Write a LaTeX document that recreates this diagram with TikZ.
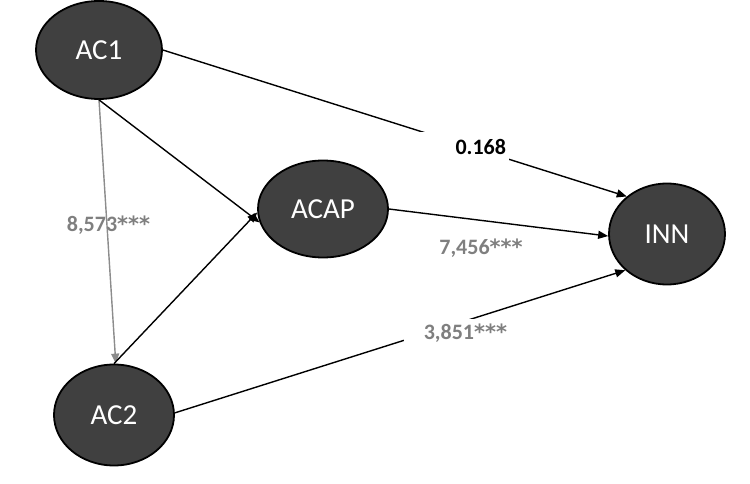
\documentclass[tikz,border=0pt]{standalone}
\usepackage{fontspec}
\setmainfont{Carlito}
\newfontfamily\starfont{DejaVu Sans}
\usetikzlibrary{arrows.meta,shapes.geometric}
\definecolor{nodefill}{RGB}{64,64,64}
\definecolor{labgray}{RGB}{127,127,127}
\definecolor{linegray}{RGB}{140,140,140}
\newcommand{\stars}{{\starfont\bfseries\fontsize{21}{24}\selectfont ***}}
\tikzset{
  latent/.style={ellipse, draw=black, line width=1.8pt, fill=nodefill, text=white,
    font=\fontsize{29}{30}\selectfont, inner sep=0pt},
  conn/.style={line width=1.4pt, -{Triangle[length=10pt,width=8pt]}},
  glabel/.style={font=\bfseries\fontsize{22}{24}\selectfont, text=labgray},
  blabel/.style={font=\bfseries\fontsize{22}{24}\selectfont, text=black},
}
\begin{document}
\begin{tikzpicture}[x=1pt,y=-1pt]
\useasboundingbox (0,0) rectangle (750,484);
\node[latent, minimum width=126pt, minimum height=98pt] (AC1) at (99,50) {AC1};
\node[latent, minimum width=130pt, minimum height=97pt] (ACAP) at (323,209) {ACAP};
\node[latent, minimum width=116pt, minimum height=101pt] (INN) at (667,234) {INN};
\node[latent, minimum width=120pt, minimum height=101pt] (AC2) at (114,415) {AC2};

\draw[conn, draw=linegray, fill=linegray] (AC1.south) -- (AC2.88);
\draw[conn] (AC1.south) -- (ACAP.192);
\draw[conn] (AC2.north) -- (ACAP.183);
\draw[conn] (AC1.east) -- (INN.137);
\draw[conn] (ACAP.east) -- (INN.182);
\draw[conn] (AC2.2) -- (INN.221);

\node[blabel, fill=white, text width=86pt, align=right, inner xsep=3pt, minimum height=30pt] (l168) at (463,147) {0.168};
\node[glabel, fill=white, text width=101pt, align=right, inner xsep=2pt, minimum height=29pt] (l3851) at (456.5,333) {3,851\stars};
\node[glabel] (l7456) at (481,248) {7,456\stars};
\node[glabel] (l8573) at (108.5,225) {8,573\stars};
\end{tikzpicture}
\end{document}
